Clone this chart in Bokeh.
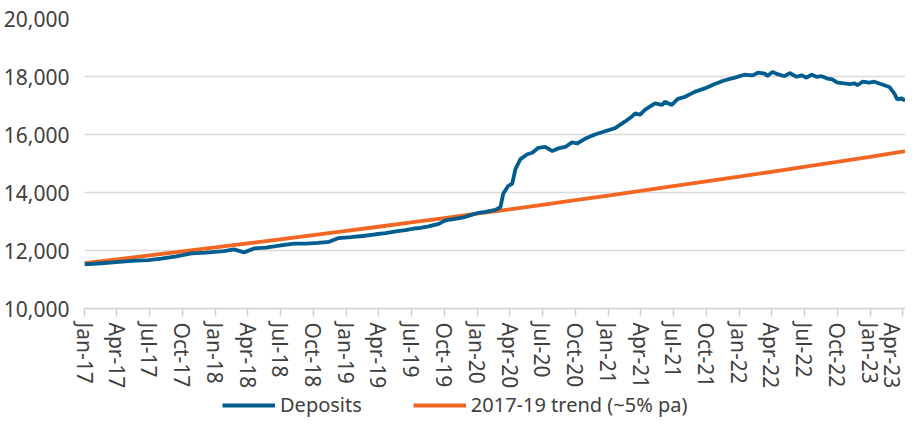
import pandas as pd
from bokeh.plotting import figure
from bokeh.layouts import column
from bokeh.models import (FixedTicker, DatetimeTickFormatter, NumeralTickFormatter,
                          Range1d, Legend, LegendItem, ColumnDataSource)
from bokeh.embed import file_html
from bokeh.resources import INLINE

# ---- data ----
dep_dates = [
    "2017-01-01", "2017-02-17", "2017-03-31", "2017-05-12", "2017-06-28", "2017-08-03",
    "2017-09-14", "2017-10-26", "2017-12-06", "2018-01-25", "2018-02-22", "2018-03-22",
    "2018-04-19", "2018-05-22", "2018-07-03", "2018-08-08", "2018-09-11", "2018-10-14",
    "2018-11-14", "2018-12-11", "2019-01-14", "2019-02-16", "2019-03-24", "2019-04-21",
    "2019-05-19", "2019-06-16", "2019-07-05", "2019-07-27", "2019-08-19", "2019-09-16",
    "2019-10-05", "2019-10-27", "2019-11-21", "2019-12-14", "2020-01-05", "2020-01-24",
    "2020-02-21", "2020-03-06", "2020-03-14", "2020-03-28", "2020-04-08", "2020-04-17",
    "2020-05-01", "2020-05-20", "2020-06-03", "2020-06-20", "2020-07-09", "2020-07-29",
    "2020-08-14", "2020-09-03", "2020-09-22", "2020-10-06", "2020-10-28", "2020-11-25",
    "2020-12-23", "2021-01-20", "2021-02-17", "2021-03-08", "2021-03-17", "2021-03-30",
    "2021-04-13", "2021-05-11", "2021-05-31", "2021-06-08", "2021-06-27", "2021-07-14",
    "2021-08-03", "2021-08-30", "2021-09-27", "2021-10-25", "2021-11-22", "2021-12-20",
    "2022-01-16", "2022-02-08", "2022-02-22", "2022-03-13", "2022-03-21", "2022-04-04",
    "2022-04-18", "2022-05-08", "2022-05-22", "2022-06-10", "2022-06-24", "2022-07-08",
    "2022-07-22", "2022-08-05", "2022-08-19", "2022-09-04", "2022-09-18", "2022-10-02",
    "2022-10-22", "2022-11-05", "2022-11-19", "2022-11-27", "2022-12-11", "2022-12-30",
    "2023-01-13", "2023-01-27", "2023-02-10", "2023-02-24", "2023-03-10", "2023-03-18",
    "2023-03-29", "2023-04-09",
]
dep_values = [
    11520, 11560, 11600, 11640, 11670, 11720,
    11800, 11900, 11930, 11980, 12040, 11935,
    12070, 12100, 12180, 12240, 12240, 12260,
    12300, 12430, 12460, 12500, 12560, 12600,
    12660, 12700, 12750, 12780, 12830, 12920,
    13040, 13080, 13130, 13220, 13300, 13330,
    13400, 13490, 13960, 14230, 14300, 14810,
    15150, 15320, 15370, 15540, 15570, 15430,
    15520, 15570, 15730, 15690, 15850, 16000,
    16110, 16220, 16450, 16620, 16730, 16680,
    16850, 17070, 17020, 17130, 17020, 17230,
    17300, 17470, 17590, 17740, 17870, 17960,
    18060, 18040, 18130, 18100, 18020, 18160,
    18080, 18010, 18120, 17990, 18040, 17960,
    18060, 17990, 18010, 17930, 17900, 17790,
    17760, 17740, 17760, 17700, 17820, 17790,
    17820, 17760, 17700, 17640, 17410, 17210,
    17250, 17170,
]
trend_dates = [
    "2017-01-01", "2017-04-01", "2017-07-01", "2017-10-01", "2018-01-01", "2018-04-01",
    "2018-07-01", "2018-10-01", "2019-01-01", "2019-04-01", "2019-07-01", "2019-10-01",
    "2020-01-01", "2020-04-01", "2020-07-01", "2020-10-01", "2021-01-01", "2021-04-01",
    "2021-07-01", "2021-10-01", "2022-01-01", "2022-04-01", "2022-07-01", "2022-10-01",
    "2023-01-01", "2023-04-01", "2023-04-09",
]
trend_values = [
    11560, 11694, 11829, 11966, 12104, 12244,
    12385, 12528, 12673, 12819, 12967, 13117,
    13269, 13422, 13577, 13734, 13893, 14053,
    14216, 14380, 14546, 14714, 14884, 15056,
    15230, 15406, 15430,
]
y_ticks = [10000, 12000, 14000, 16000, 18000, 20000]
x_tick_dates = [
    "2017-01-01", "2017-04-01", "2017-07-01", "2017-10-01", "2018-01-01", "2018-04-01",
    "2018-07-01", "2018-10-01", "2019-01-01", "2019-04-01", "2019-07-01", "2019-10-01",
    "2020-01-01", "2020-04-01", "2020-07-01", "2020-10-01", "2021-01-01", "2021-04-01",
    "2021-07-01", "2021-10-01", "2022-01-01", "2022-04-01", "2022-07-01", "2022-10-01",
    "2023-01-01", "2023-04-01",
]
series_names = ["Deposits", "2017-19 trend (~5% pa)"]

# ---- styling ----
BLUE = "#005d8f"
ORANGE = "#f26522"
TEXT = "#404040"
FONT = "Noto Sans"

dep_src = ColumnDataSource(dict(x=pd.to_datetime(dep_dates), y=dep_values))
trend_src = ColumnDataSource(dict(x=pd.to_datetime(trend_dates), y=trend_values))

p = figure(width=905, height=392, x_axis_type="datetime",
           output_backend="svg", toolbar_location=None,
           x_range=Range1d(pd.Timestamp("2017-01-01"), pd.Timestamp("2023-04-10")),
           y_range=Range1d(10000, 20000),
           min_border_left=84, min_border_right=0, min_border_top=18, min_border_bottom=84)
p.outline_line_color = None
p.background_fill_color = "white"
p.border_fill_color = "white"

r_trend = p.line("x", "y", source=trend_src, line_color=ORANGE, line_width=3.8)
r_dep = p.line("x", "y", source=dep_src, line_color=BLUE, line_width=3.8)

# y axis
p.yaxis.ticker = FixedTicker(ticks=y_ticks)
p.yaxis.formatter = NumeralTickFormatter(format="0,0")
p.yaxis.axis_line_color = None
p.yaxis.major_tick_line_color = None
p.yaxis.minor_tick_line_color = None
p.yaxis.major_label_text_font = FONT
p.yaxis.major_label_text_font_size = "21px"
p.yaxis.major_label_text_color = TEXT
p.yaxis.major_label_standoff = 9

# x axis
tick_ms = [pd.Timestamp(d).value / 1e6 for d in x_tick_dates]
p.xaxis.ticker = FixedTicker(ticks=tick_ms)
fmt = "%b-%y"
p.xaxis.formatter = DatetimeTickFormatter(milliseconds=fmt, seconds=fmt, minsec=fmt, minutes=fmt,
                                          hourmin=fmt, hours=fmt, days=fmt, months=fmt, years=fmt)
p.xaxis.major_label_orientation = "vertical"
p.xaxis.axis_line_color = "#d0d0d0"
p.xaxis.axis_line_width = 1.5
p.xaxis.major_tick_line_color = "#d0d0d0"
p.xaxis.major_tick_line_width = 1.5
p.xaxis.major_tick_out = 8
p.xaxis.major_tick_in = 0
p.xaxis.minor_tick_line_color = None
p.xaxis.major_label_text_font = FONT
p.xaxis.major_label_text_font_size = "21px"
p.xaxis.major_label_text_color = TEXT
p.xaxis.major_label_standoff = 6

p.xgrid.grid_line_color = None
p.ygrid.grid_line_color = "#d9d9d9"
p.ygrid.grid_line_width = 1.5
p.ygrid.ticker = FixedTicker(ticks=y_ticks)

# ---- legend strip (separate small figure under the chart, no axes) ----
# note: the column layout aligns this strip's frame with the chart's frame
lg = figure(width=905, height=26, output_backend="svg", toolbar_location=None,
            x_axis_location=None, y_axis_location=None,
            x_range=Range1d(0, 1), y_range=Range1d(0, 1),
            min_border_left=0, min_border_right=0, min_border_top=0, min_border_bottom=0)
lg.grid.visible = False
lg.outline_line_color = None
lg.border_fill_color = "white"
lg.background_fill_color = "white"
# same series, but outside this strip's ranges: only their legend keys show
lk_dep = lg.line("x", "y", source=dep_src, line_color=BLUE, line_width=3.8)
lk_trend = lg.line("x", "y", source=trend_src, line_color=ORANGE, line_width=3.8)
legend = Legend(items=[LegendItem(label=series_names[0], renderers=[lk_dep]),
                       LegendItem(label=series_names[1], renderers=[lk_trend])],
                orientation="horizontal", location=(138, 0),
                label_text_font=FONT, label_text_font_size="20px", label_text_color=TEXT,
                glyph_width=53, glyph_height=20, label_height=20, label_standoff=5, spacing=51,
                padding=2, margin=0, border_line_color=None, background_fill_alpha=0)
lg.add_layout(legend, "center")

layout = column(p, lg, spacing=0)
open("out.html", "w").write(file_html(layout, INLINE))
